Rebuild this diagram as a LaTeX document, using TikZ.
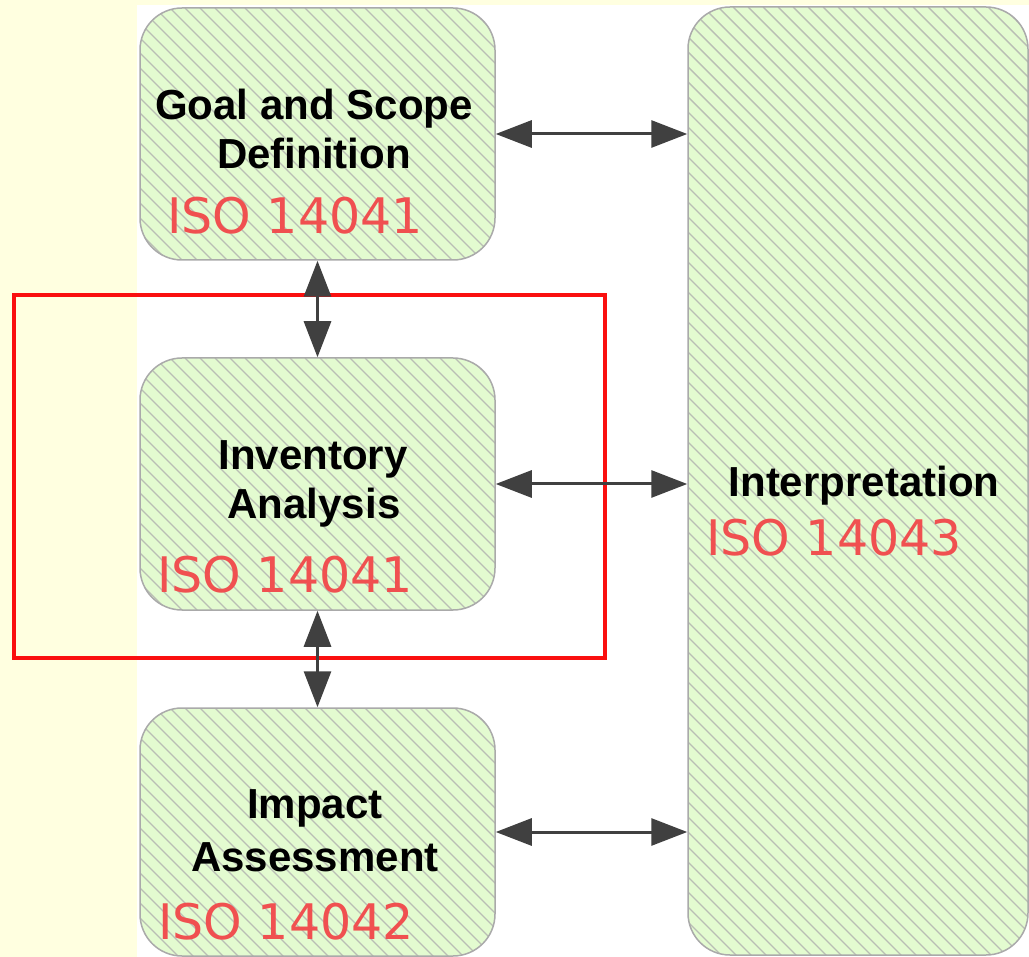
\documentclass[tikz,border=0pt]{standalone}
\usepackage{fontspec}
\usetikzlibrary{arrows.meta}
\newfontfamily\labelfont{Liberation Sans}
\newfontfamily\isofont{DejaVu Sans}
\definecolor{pagebg}{RGB}{255,255,224}
\definecolor{boxfill}{RGB}{227,251,208}
\definecolor{boxline}{RGB}{170,170,170}
\definecolor{hatchc}{RGB}{185,190,180}
\definecolor{arrowc}{RGB}{64,64,64}
\definecolor{isored}{RGB}{240,80,80}
\definecolor{framered}{RGB}{250,15,15}
\tikzset{
  stage/.style={draw=boxline, line width=1.5pt, fill=boxfill,
    rounded corners=42pt, inner sep=0pt,
    path picture={\foreach \k in {-960,-945,...,360}
      \draw[hatchc, line width=1.4pt]
        ([xshift=\k pt]path picture bounding box.north west) -- ++(1000pt,-1000pt);}},
  title/.style={anchor=base, inner sep=0pt,
    font=\labelfont\bfseries\fontsize{42}{50}\selectfont},
  iso/.style={anchor=base west, inner sep=0pt, text=isored,
    font=\isofont\fontsize{49}{56}\selectfont},
  link/.style={draw=arrowc, line width=3pt,
    arrows={Triangle[length=36pt,width=27pt]-Triangle[length=36pt,width=27pt]}},
  focus/.style={draw=framered, line width=4pt}
}
\begin{document}
\begin{tikzpicture}[x=1pt, y=-1pt]
  % page background and white panel
  \fill[pagebg] (0,0) rectangle (1029,957);
  \fill[white] (137,5) rectangle (1029,957);
  \useasboundingbox (0,0) rectangle (1029,957);

  % stage boxes
  \node[stage, minimum width=355pt, minimum height=252pt] (goal) at (317.5,134) {};
  \node[stage, minimum width=355pt, minimum height=252pt] (inv) at (317.5,484) {};
  \node[stage, minimum width=355pt, minimum height=248pt] (imp) at (317.5,832) {};
  \node[stage, minimum width=340pt, minimum height=948pt] (interp) at (858,481) {};

  % box texts
  \node[title] (goalA) at (314,120) {Goal and Scope};
  \node[title] (goalB) at (314,169) {Definition};
  \node[iso] (goalIso) at (167,234) {ISO 14041};

  \node[title] (invA) at (313,470) {Inventory};
  \node[title] (invB) at (314,519) {Analysis};
  \node[iso] (invIso) at (157,593) {ISO 14041};

  \node[title] (impA) at (315,818) {Impact};
  \node[title] (impB) at (315,871) {Assessment};
  \node[iso] (impIso) at (158,939) {ISO 14042};

  \node[title] (intA) at (864,497) {Interpretation};
  \node[iso] (intIso) at (706,555) {ISO 14043};

  % highlight frame round the inventory stage
  \node[focus, minimum width=591pt, minimum height=363pt, inner sep=0pt] (frame) at (309.5,476.5) {};

  % connectors
  \draw[link] (goal.east) -- (goal.east -| interp.west);
  \draw[link] (inv.east) -- (inv.east -| interp.west);
  \draw[link] (imp.east) -- (imp.east -| interp.west);
  \draw[link] (goal.south) -- (inv.north);
  \draw[link] (inv.south) -- (imp.north);
\end{tikzpicture}
\end{document}
